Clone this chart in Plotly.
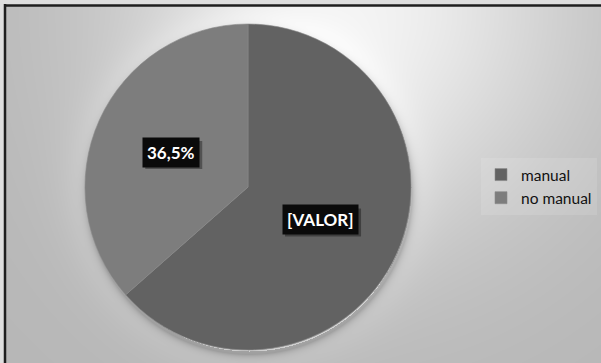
import base64
import struct
import zlib

import numpy as np
import plotly.graph_objects as go

# ---- data ----
labels = ["manual", "no manual"]
values = [63.5, 36.5]
slice_text = ["[VALOR]", "36,5%"]

# ---- style ----
W, H = 601, 363
slice_colors = ["#626262", "#7d7d7d"]
pie_cx, pie_cy, pie_r = 248, 187, 163          # pixel geometry of the pie
label_frac = [0.485, 0.52]                      # label distance as fraction of radius
FONT = "Lato"


def png_gray(arr):
    """Encode a 2-D uint8 array as a grayscale PNG data URI."""
    h, w = arr.shape
    raw = b"".join(b"\x00" + arr[i].tobytes() for i in range(h))

    def chunk(tag, data):
        c = tag + data
        return struct.pack(">I", len(data)) + c + struct.pack(">I", zlib.crc32(c) & 0xFFFFFFFF)

    png = (b"\x89PNG\r\n\x1a\n"
           + chunk(b"IHDR", struct.pack(">IIBBBBB", w, h, 8, 0, 0, 0, 0))
           + chunk(b"IDAT", zlib.compress(raw, 9))
           + chunk(b"IEND", b""))
    return "data:image/png;base64," + base64.b64encode(png).decode()


# backdrop: flat gray with a bright spot near the top, a glow and a drop shadow round the pie
yy, xx = np.mgrid[0:H, 0:W].astype(float)
bg = 183 + 60 * np.exp(-((xx - 350) ** 2 + (yy - 10) ** 2) / (2 * 160 ** 2))
d_glow = np.hypot(xx - pie_cx, yy - pie_cy) - pie_r
bg += 20 * np.exp(-np.clip(d_glow, 0, None) / 16) * (d_glow > 0)
d_sh = np.hypot(xx - (pie_cx + 1), yy - (pie_cy + 4)) - pie_r
bg -= 45 * np.exp(-np.clip(d_sh, 0, None) / 4) * (d_sh > -3)
bg[:5, :] = 222
bg[:, :4] = 222
bg_img = png_gray(np.clip(bg, 0, 255).astype(np.uint8))

# pie domain in paper coordinates (margins are zero, so paper == page)
dom_x = [(pie_cx - pie_r) / W, (pie_cx + pie_r) / W]
dom_y = [1 - (pie_cy + pie_r) / H, 1 - (pie_cy - pie_r) / H]

fig = go.Figure(go.Pie(
    labels=labels,
    values=values,
    sort=False,
    direction="clockwise",
    rotation=0,
    textinfo="none",
    hoverinfo="label+value",
    marker=dict(colors=slice_colors, line=dict(color="#8a8a8a", width=0.6)),
    domain=dict(x=dom_x, y=dom_y),
))

# value labels: black boxes placed at each slice's mid-angle, with a soft box shadow
total = sum(values)
cum = 0.0
annotations = []
shapes = [
    dict(type="line", xref="paper", yref="paper", x0=4 / W, x1=1, y0=1 - 5.5 / H, y1=1 - 5.5 / H,
         line=dict(color="#1e1e1e", width=2.5)),
    dict(type="line", xref="paper", yref="paper", x0=5 / W, x1=5 / W, y0=0, y1=1 - 4 / H,
         line=dict(color="#1e1e1e", width=2.5)),
]
for i, (v, txt) in enumerate(zip(values, slice_text)):
    theta = 2 * np.pi * (cum + v / 2) / total
    cum += v
    px = pie_cx + label_frac[i] * pie_r * np.sin(theta)
    py = pie_cy - label_frac[i] * pie_r * np.cos(theta)
    bw, bh = 9.5 * len(txt) + 9.5, 28
    sx, sy = px + 3, py + 3
    shapes.append(dict(type="rect", xref="paper", yref="paper", layer="above",
                       x0=(sx - bw / 2) / W, x1=(sx + bw / 2) / W,
                       y0=1 - (sy + bh / 2) / H, y1=1 - (sy - bh / 2) / H,
                       fillcolor="rgba(0,0,0,0.35)", line=dict(width=0)))
    annotations.append(dict(x=px / W, y=1 - py / H, xref="paper", yref="paper",
                            xanchor="center", yanchor="middle",
                            text=txt, showarrow=False, borderpad=4, bgcolor="#0a0a0a",
                            font=dict(family=FONT, size=17, color="white", weight="bold")))

fig.update_layout(
    width=W, height=H,
    margin=dict(l=0, r=0, t=0, b=0),
    paper_bgcolor="#c8c8c8",
    images=[dict(source=bg_img, xref="paper", yref="paper", x=0, y=1,
                 sizex=1, sizey=1, sizing="stretch", layer="below",
                 xanchor="left", yanchor="top")],
    showlegend=True,
    legend=dict(x=481 / W, y=1 - 158 / H, xanchor="left", yanchor="top",
                bgcolor="rgba(255,255,255,0.12)",
                font=dict(family=FONT, size=15.5, color="#111111"),
                itemwidth=30),
    annotations=annotations,
    shapes=shapes,
)

fig.write_html("out.html")
